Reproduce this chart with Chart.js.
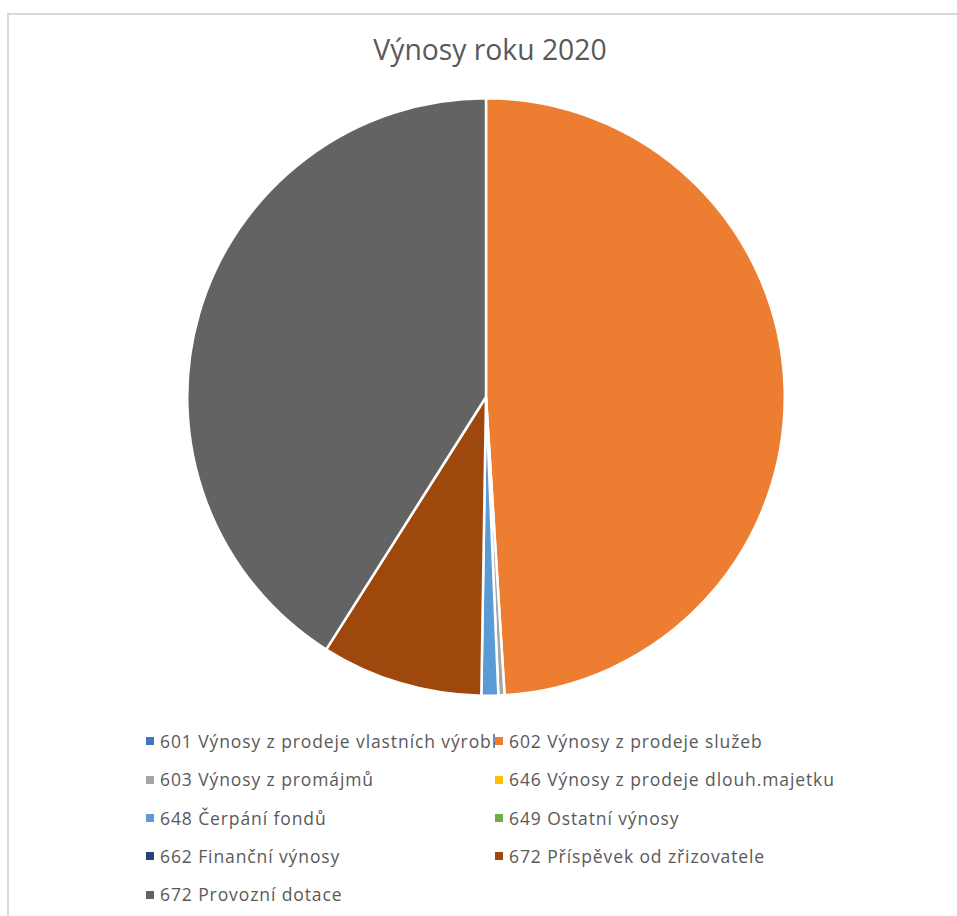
<!DOCTYPE html>
<html>
<head>
<meta charset="utf-8">
<script src="https://cdn.jsdelivr.net/npm/chart.js@4"></script>
<style>
  html, body { margin:0; padding:0; background:#fff; width:957px; height:916px; overflow:hidden; }
  #frame { position:absolute; left:7px; top:13px; width:1000px; height:1000px; border-left:2px solid #d9d9d9; border-top:2px solid #d9d9d9; }
  #title { position:absolute; left:0; width:980px; top:30px; text-align:center; font-family:"Open Sans", sans-serif; font-size:28.3px; color:#595959; }
  #pie { position:absolute; left:186px; top:97px; width:600px; height:600px; }
  .item { position:absolute; height:22px; font-family:"Open Sans", sans-serif; font-size:17.5px; color:#595959; white-space:nowrap; overflow:hidden; line-height:22px; letter-spacing:0.9px; }
  .sw { display:inline-block; width:8px; height:8px; margin-right:6px; vertical-align:middle; position:relative; top:-2px; }
</style>
</head>
<body>
<div id="frame"></div>
<div id="title">Výnosy roku 2020</div>
<div id="pie"><canvas id="c"></canvas></div>
<div id="legend"></div>
<script>
const categories = [
  "601 Výnosy z prodeje vlastních výrobků",
  "602 Výnosy z prodeje služeb",
  "603 Výnosy z promájmů",
  "646 Výnosy z prodeje dlouh.majetku",
  "648 Čerpání fondů",
  "649 Ostatní výnosy",
  "662 Finanční výnosy",
  "672 Příspěvek od zřizovatele",
  "672 Provozní dotace"
];
const values = [0, 49.01, 0.33, 0, 0.91, 0, 0, 8.73, 41.02];
const colors = ["#4472C4", "#ED7D31", "#A5A5A5", "#FFC000", "#5B9BD5", "#70AD47", "#264478", "#9E480E", "#636363"];

const chart = new Chart(document.getElementById('c'), {
  type: 'pie',
  data: {
    labels: categories,
    datasets: [{ data: values, backgroundColor: colors, borderColor: '#ffffff', borderWidth: 2.5 }]
  },
  options: {
    responsive: true,
    maintainAspectRatio: false,
    animation: false,
    layout: { padding: 0 },
    plugins: { legend: { display: false }, title: { display: false }, tooltip: { enabled: false } }
  }
});

// HTML legend in two columns, generated from the chart's own labels
const legendItems = chart.options.plugins.legend.labels.generateLabels(chart);
const legendEl = document.getElementById('legend');
const colX = [146, 495];
const colW = [349, 440];
const rowY = 730, rowStep = 38.3;
legendItems.forEach((it, i) => {
  const col = i % 2, row = Math.floor(i / 2);
  const d = document.createElement('div');
  d.className = 'item';
  d.style.left = colX[col] + 'px';
  d.style.top = (rowY + row * rowStep) + 'px';
  d.style.width = colW[col] + 'px';
  const s = document.createElement('span');
  s.className = 'sw';
  s.style.background = it.fillStyle;
  d.appendChild(s);
  d.appendChild(document.createTextNode(it.text));
  legendEl.appendChild(d);
});
</script>
</body>
</html>
